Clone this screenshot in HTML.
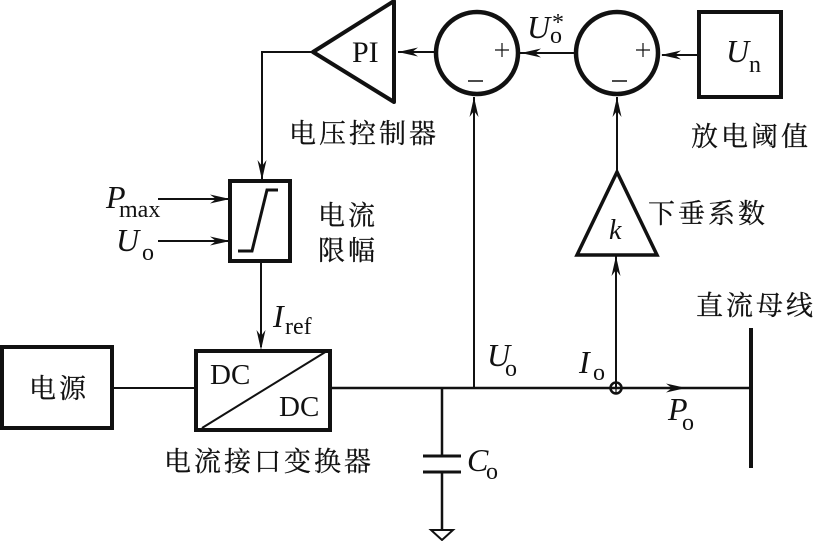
<!DOCTYPE html>
<html><head><meta charset="utf-8"><style>
html,body{margin:0;padding:0;background:#fff}
svg{display:block}
text{fill:#111;font-family:"Liberation Serif","Noto Serif CJK SC",serif}
.c{font-size:27px;letter-spacing:3px;stroke:#111;stroke-width:.25px}
.i{font-style:italic;font-size:32px}
.s{font-size:24px}
.r{font-size:30px}
</style></head><body>
<svg width="814" height="541" viewBox="0 0 814 541" xmlns="http://www.w3.org/2000/svg">
<defs>
<g id="ah"><path d="M0 0L-20 -4.5L-14 0L-20 4.5Z" fill="#111"/></g>
</defs>
<g fill="none" stroke="#111" stroke-width="2">
<path d="M699 55H662"/>
<path d="M576 53H520"/>
<path d="M434 52H398"/>
<path d="M312 52H262V180"/>
<path d="M617 170V97"/>
<path d="M474 387V97"/>
<path d="M616 387V256"/>
<path d="M158 199H230"/>
<path d="M158 241H230"/>
<path d="M261 262V347"/>
<path d="M113 388H195"/>
<path d="M330 388H751" stroke-width="2.5"/>
<path d="M202 428L327 351" stroke-width="2"/>
<path d="M442 388V456M442 472V530" stroke-width="2.5"/>
<path d="M423 456H461M423 472H461" stroke-width="3"/>
<path d="M431 530H453L442 540Z" stroke-width="2"/>
<circle cx="616" cy="388" r="5.5" stroke-width="2.5"/>
</g>
<g fill="none" stroke="#111" stroke-width="4">
<path d="M394 1V102L313 52Z" stroke-linejoin="round"/>
<circle cx="477" cy="53" r="41" stroke-width="4.5"/>
<circle cx="617" cy="53" r="41" stroke-width="4.5"/>
<rect x="699" y="12" width="82" height="85"/>
<path d="M617 172L577 255H657Z" stroke-width="3.5"/>
<rect x="230" y="181" width="60" height="80"/>
<rect x="2" y="347" width="110" height="81"/>
<rect x="196" y="351" width="134" height="79"/>
<path d="M751 328V468" stroke-width="4"/>
<path d="M238 251H252L267 190H278" stroke-width="3"/>
</g>
<g stroke="#111" stroke-width="1.2">
<path d="M495 50H509M502 43V57"/>
<path d="M468 81H483" stroke-width="1.5"/>
<path d="M636 50H650M643 43V57"/>
<path d="M612 81H627" stroke-width="1.5"/>
<path d="M616 382V394"/>
</g>
<use href="#ah" transform="translate(398,52) rotate(180)"/>
<use href="#ah" transform="translate(521,53) rotate(180)"/>
<use href="#ah" transform="translate(661,55) rotate(180)"/>
<use href="#ah" transform="translate(474,97) rotate(-90)"/>
<use href="#ah" transform="translate(617,97) rotate(-90)"/>
<use href="#ah" transform="translate(616,256) rotate(-90)"/>
<use href="#ah" transform="translate(262,180) rotate(90)"/>
<use href="#ah" transform="translate(230,199)"/>
<use href="#ah" transform="translate(230,241)"/>
<use href="#ah" transform="translate(261,350) rotate(90)"/>
<use href="#ah" transform="translate(686,388)"/>
<text class="r" x="352" y="62">PI</text>
<text class="i" x="527" y="38">U</text><text class="s" x="550" y="43">o</text><text class="s" x="552" y="30">*</text>
<text class="i" x="726" y="62">U</text><text class="s" x="749" y="72">n</text>
<text class="i" x="609" y="239" style="font-size:28px">k</text>
<text class="c" x="289" y="143">电压控制器</text>
<text class="c" x="691" y="146">放电阈值</text>
<text class="c" x="648" y="223">下垂系数</text>
<text class="c" x="318" y="225">电流</text>
<text class="c" x="318" y="260">限幅</text>
<text class="c" x="696" y="315">直流母线</text>
<text class="c" x="29" y="398">电源</text>
<text class="c" x="164" y="471">电流接口变换器</text>
<text class="i" x="106" y="208">P</text><text class="s" x="119" y="217">max</text>
<text class="i" x="116" y="251">U</text><text class="s" x="142" y="260">o</text>
<text class="i" x="273" y="327">I</text><text class="s" x="285" y="334">ref</text>
<text class="r" x="210" y="384" style="font-size:29px">DC</text>
<text class="r" x="279" y="416" style="font-size:29px">DC</text>
<text class="i" x="487" y="366">U</text><text class="s" x="505" y="376">o</text>
<text class="i" x="579" y="373">I</text><text class="s" x="593" y="380">o</text>
<text class="i" x="668" y="420">P</text><text class="s" x="682" y="430">o</text>
<text class="i" x="467" y="471">C</text><text class="s" x="486" y="479">o</text>
</svg>
</body></html>
